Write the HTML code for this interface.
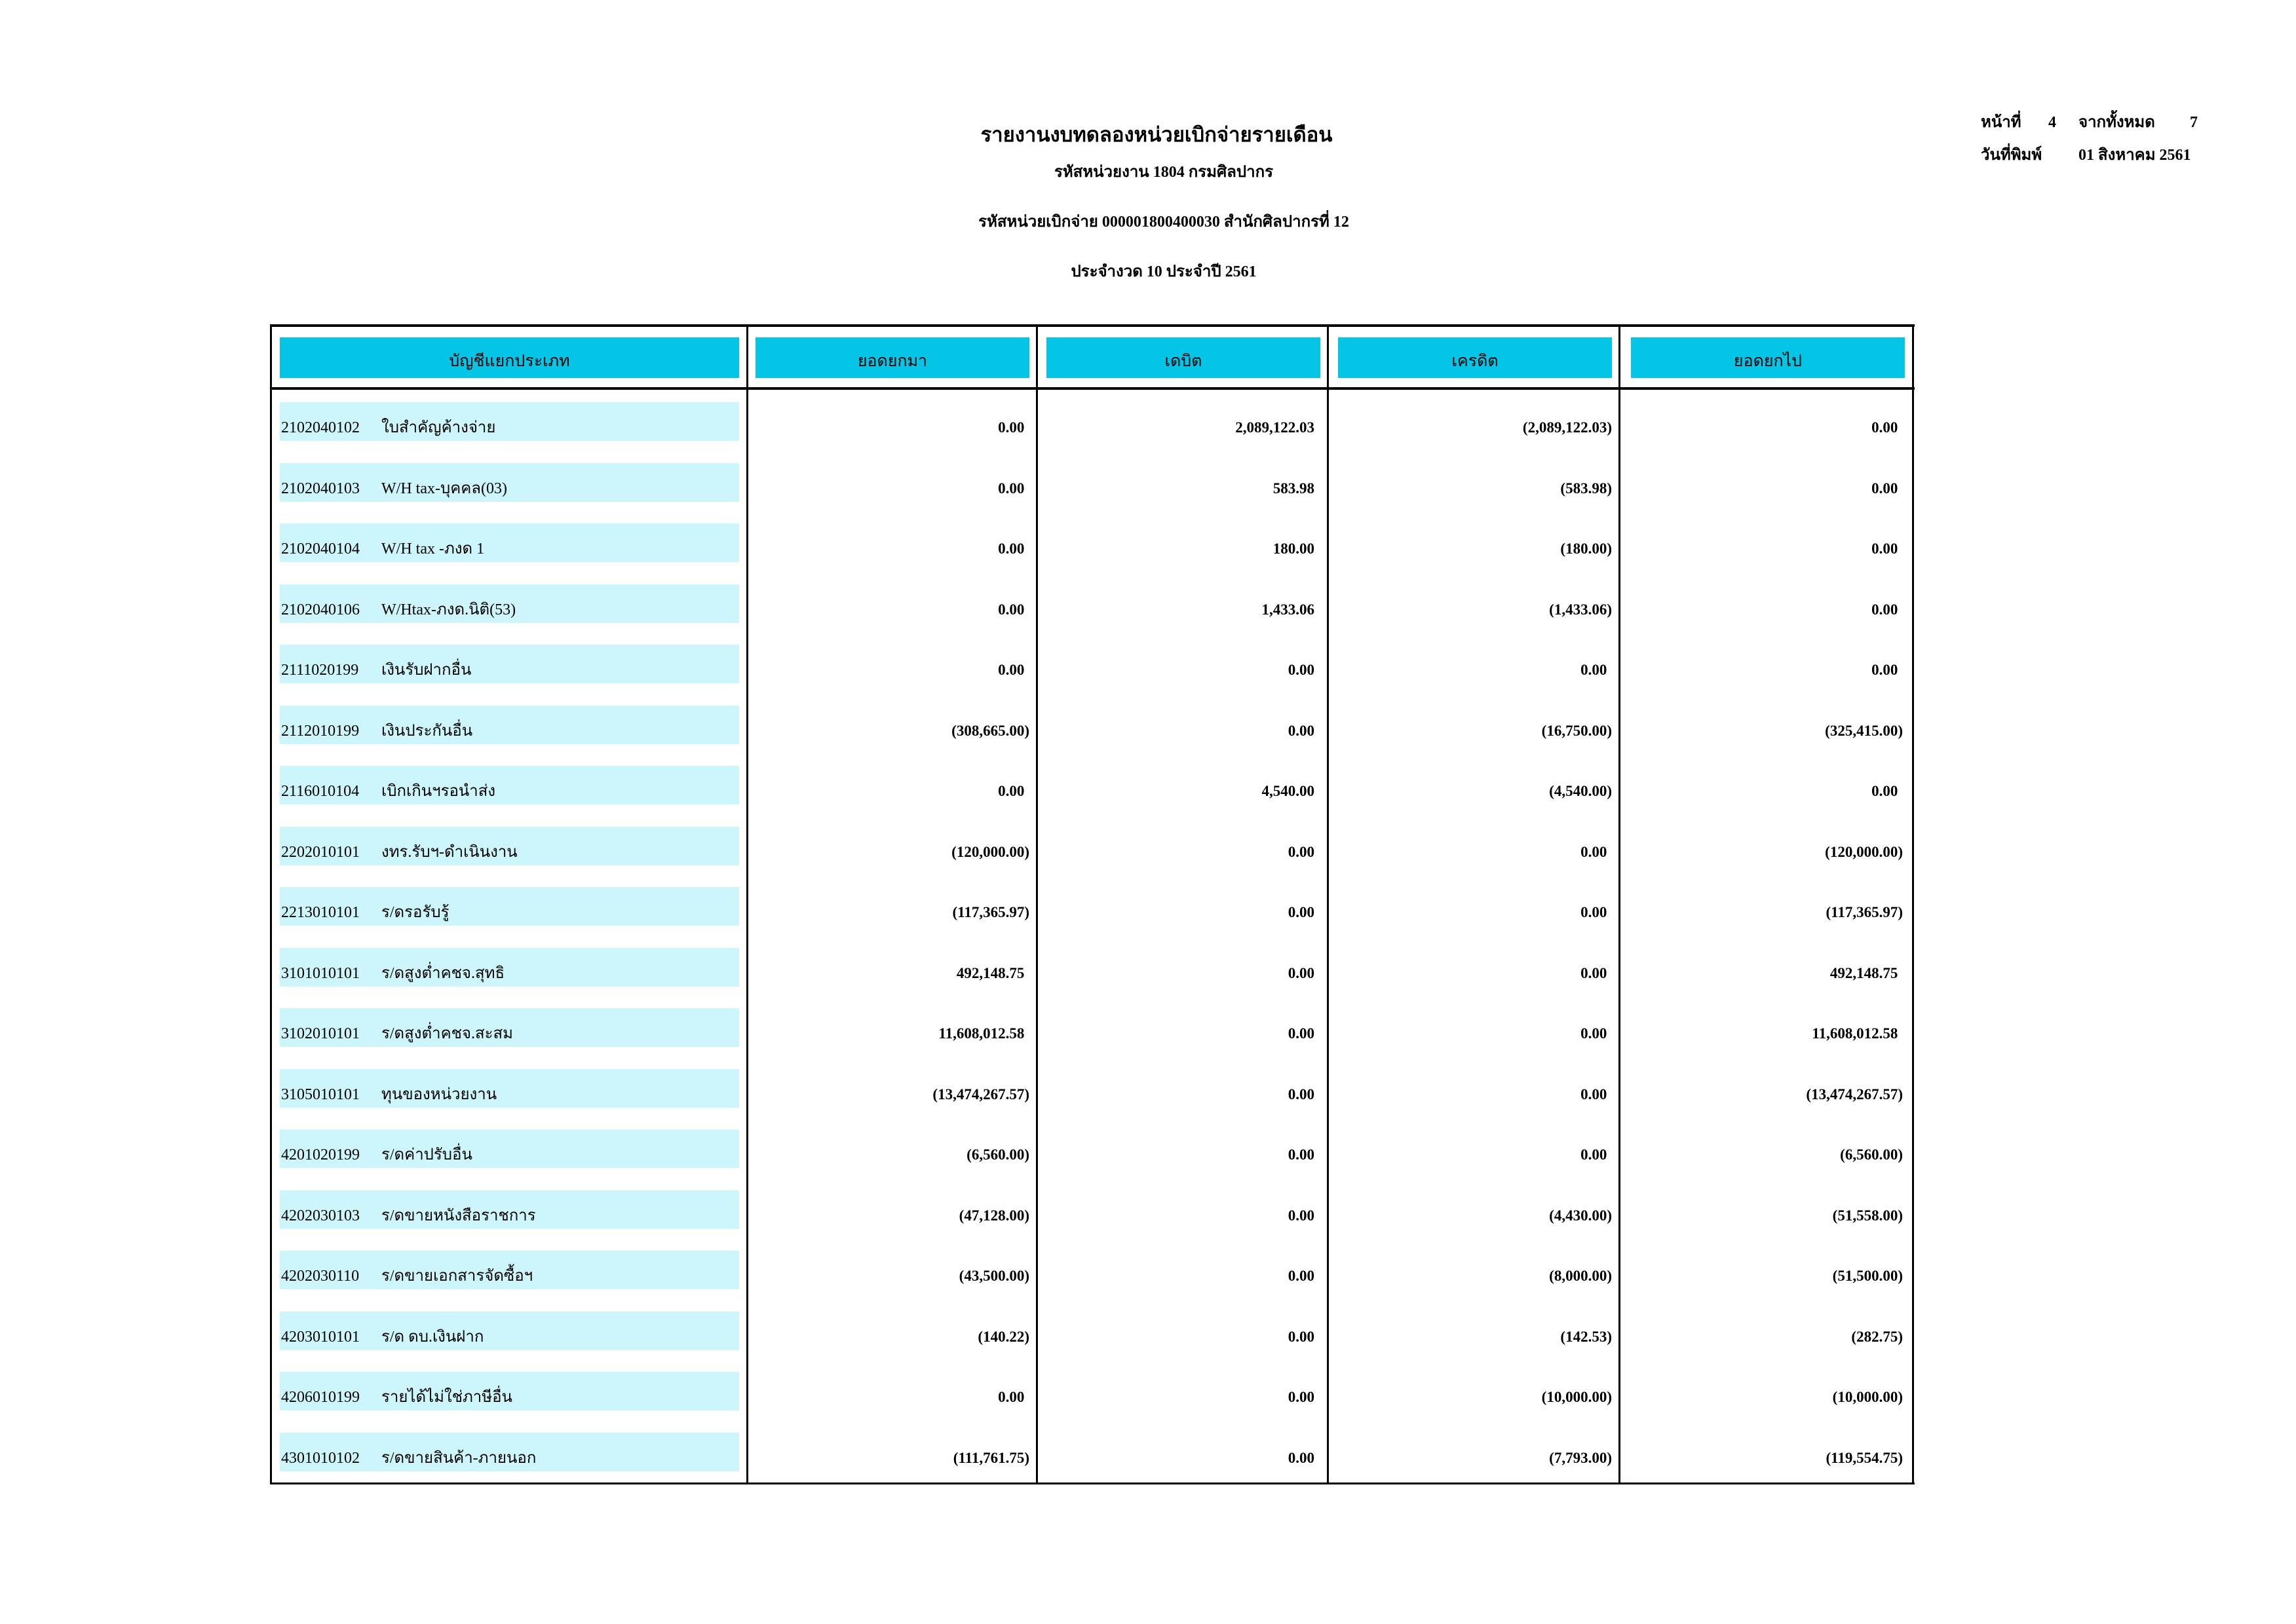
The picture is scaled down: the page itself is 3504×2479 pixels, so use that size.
<!DOCTYPE html>
<html><head><meta charset="utf-8"><style>
body{margin:0;width:3504px;height:2479px;background:#fff;position:relative;overflow:hidden;font-family:"Liberation Serif","DejaVu Serif",serif;color:#000}
.a{position:absolute;white-space:nowrap}
.t{font-weight:bold}
.rb{line-height:34px;height:34px}
.line{position:absolute;background:#000}
.hc{position:absolute;top:515px;height:62px;line-height:74px;background:#05c5e6;text-align:center;font-size:25px}
.r{position:absolute;left:0;width:3504px;height:59px}
.lab{position:absolute;left:427px;width:701px;height:59px;background:#ccf6fc;font-size:24px;line-height:78px;overflow:visible}
.lab .c{position:absolute;left:2px}
.lab .n{position:absolute;left:155px}
.v{position:absolute;font-weight:bold;font-size:23px;line-height:78px;text-align:right}
.v1{right:calc(3504px - 1571px)}
.v2{right:calc(3504px - 2006px)}
.v3{right:calc(3504px - 2460px)}
.v4{right:calc(3504px - 2904px)}
.h{visibility:hidden}
</style></head><body>
<div class="a t" style="left:0;width:3530px;text-align:center;top:180px;font-size:31px">รายงานงบทดลองหน่วยเบิกจ่ายรายเดือน</div>
<div class="a t" style="left:0;width:3552px;text-align:center;top:242px;font-size:24px">รหัสหน่วยงาน 1804 กรมศิลปากร</div>
<div class="a t" style="left:0;width:3552px;text-align:center;top:318px;font-size:24px">รหัสหน่วยเบิกจ่าย 000001800400030 สำนักศิลปากรที่ 12</div>
<div class="a t" style="left:0;width:3552px;text-align:center;top:394px;font-size:24px">ประจำงวด 10 ประจำปี 2561</div>
<div class="a t rb" style="left:3023px;top:170px;font-size:24px">หน้าที่</div>
<div class="a t rb" style="left:3126px;top:170px;font-size:24px">4</div>
<div class="a t rb" style="left:3172px;top:170px;font-size:24px">จากทั้งหมด</div>
<div class="a t rb" style="left:3342px;top:170px;font-size:24px">7</div>
<div class="a t rb" style="left:3023px;top:220px;font-size:24px">วันที่พิมพ์</div>
<div class="a t rb" style="left:3172px;top:220px;font-size:24px">01 สิงหาคม 2561</div>

<div class="line" style="left:412px;top:495px;width:2510px;height:4px"></div>
<div class="line" style="left:412px;top:2263px;width:2510px;height:3px"></div>
<div class="line" style="left:412px;top:495px;width:3px;height:1771px"></div>
<div class="line" style="left:2918px;top:495px;width:3px;height:1771px"></div>
<div class="line" style="left:412px;top:591px;width:2510px;height:4px"></div>
<div class="line" style="left:1139px;top:495px;width:3px;height:1771px"></div>
<div class="line" style="left:1581px;top:495px;width:3px;height:1771px"></div>
<div class="line" style="left:2025px;top:495px;width:3px;height:1771px"></div>
<div class="line" style="left:2470px;top:495px;width:3px;height:1771px"></div>

<div class="hc" style="left:427px;width:701px">บัญชีแยกประเภท</div>
<div class="hc" style="left:1153px;width:418px">ยอดยกมา</div>
<div class="hc" style="left:1597px;width:418px">เดบิต</div>
<div class="hc" style="left:2042px;width:418px">เครดิต</div>
<div class="hc" style="left:2489px;width:418px">ยอดยกไป</div>

<div class="r" style="top:614px"><div class="lab"><span class="c">2102040102</span><span class="n">ใบสำคัญค้างจ่าย</span></div><div class="v v1">0.00<span class="h">)</span></div><div class="v v2">2,089,122.03</div><div class="v v3">(2,089,122.03)</div><div class="v v4">0.00<span class="h">)</span></div></div>
<div class="r" style="top:706.5px"><div class="lab"><span class="c">2102040103</span><span class="n">W/H tax-บุคคล(03)</span></div><div class="v v1">0.00<span class="h">)</span></div><div class="v v2">583.98</div><div class="v v3">(583.98)</div><div class="v v4">0.00<span class="h">)</span></div></div>
<div class="r" style="top:799px"><div class="lab"><span class="c">2102040104</span><span class="n">W/H tax -ภงด 1</span></div><div class="v v1">0.00<span class="h">)</span></div><div class="v v2">180.00</div><div class="v v3">(180.00)</div><div class="v v4">0.00<span class="h">)</span></div></div>
<div class="r" style="top:891.5px"><div class="lab"><span class="c">2102040106</span><span class="n">W/Htax-ภงด.นิติ(53)</span></div><div class="v v1">0.00<span class="h">)</span></div><div class="v v2">1,433.06</div><div class="v v3">(1,433.06)</div><div class="v v4">0.00<span class="h">)</span></div></div>
<div class="r" style="top:984px"><div class="lab"><span class="c">2111020199</span><span class="n">เงินรับฝากอื่น</span></div><div class="v v1">0.00<span class="h">)</span></div><div class="v v2">0.00</div><div class="v v3">0.00<span class="h">)</span></div><div class="v v4">0.00<span class="h">)</span></div></div>
<div class="r" style="top:1076.5px"><div class="lab"><span class="c">2112010199</span><span class="n">เงินประกันอื่น</span></div><div class="v v1">(308,665.00)</div><div class="v v2">0.00</div><div class="v v3">(16,750.00)</div><div class="v v4">(325,415.00)</div></div>
<div class="r" style="top:1169px"><div class="lab"><span class="c">2116010104</span><span class="n">เบิกเกินฯรอนำส่ง</span></div><div class="v v1">0.00<span class="h">)</span></div><div class="v v2">4,540.00</div><div class="v v3">(4,540.00)</div><div class="v v4">0.00<span class="h">)</span></div></div>
<div class="r" style="top:1261.5px"><div class="lab"><span class="c">2202010101</span><span class="n">งทร.รับฯ-ดำเนินงาน</span></div><div class="v v1">(120,000.00)</div><div class="v v2">0.00</div><div class="v v3">0.00<span class="h">)</span></div><div class="v v4">(120,000.00)</div></div>
<div class="r" style="top:1354px"><div class="lab"><span class="c">2213010101</span><span class="n">ร/ดรอรับรู้</span></div><div class="v v1">(117,365.97)</div><div class="v v2">0.00</div><div class="v v3">0.00<span class="h">)</span></div><div class="v v4">(117,365.97)</div></div>
<div class="r" style="top:1446.5px"><div class="lab"><span class="c">3101010101</span><span class="n">ร/ดสูงต่ำคชจ.สุทธิ</span></div><div class="v v1">492,148.75<span class="h">)</span></div><div class="v v2">0.00</div><div class="v v3">0.00<span class="h">)</span></div><div class="v v4">492,148.75<span class="h">)</span></div></div>
<div class="r" style="top:1539px"><div class="lab"><span class="c">3102010101</span><span class="n">ร/ดสูงต่ำคชจ.สะสม</span></div><div class="v v1">11,608,012.58<span class="h">)</span></div><div class="v v2">0.00</div><div class="v v3">0.00<span class="h">)</span></div><div class="v v4">11,608,012.58<span class="h">)</span></div></div>
<div class="r" style="top:1631.5px"><div class="lab"><span class="c">3105010101</span><span class="n">ทุนของหน่วยงาน</span></div><div class="v v1">(13,474,267.57)</div><div class="v v2">0.00</div><div class="v v3">0.00<span class="h">)</span></div><div class="v v4">(13,474,267.57)</div></div>
<div class="r" style="top:1724px"><div class="lab"><span class="c">4201020199</span><span class="n">ร/ดค่าปรับอื่น</span></div><div class="v v1">(6,560.00)</div><div class="v v2">0.00</div><div class="v v3">0.00<span class="h">)</span></div><div class="v v4">(6,560.00)</div></div>
<div class="r" style="top:1816.5px"><div class="lab"><span class="c">4202030103</span><span class="n">ร/ดขายหนังสือราชการ</span></div><div class="v v1">(47,128.00)</div><div class="v v2">0.00</div><div class="v v3">(4,430.00)</div><div class="v v4">(51,558.00)</div></div>
<div class="r" style="top:1909px"><div class="lab"><span class="c">4202030110</span><span class="n">ร/ดขายเอกสารจัดซื้อฯ</span></div><div class="v v1">(43,500.00)</div><div class="v v2">0.00</div><div class="v v3">(8,000.00)</div><div class="v v4">(51,500.00)</div></div>
<div class="r" style="top:2001.5px"><div class="lab"><span class="c">4203010101</span><span class="n">ร/ด ดบ.เงินฝาก</span></div><div class="v v1">(140.22)</div><div class="v v2">0.00</div><div class="v v3">(142.53)</div><div class="v v4">(282.75)</div></div>
<div class="r" style="top:2094px"><div class="lab"><span class="c">4206010199</span><span class="n">รายได้ไม่ใช่ภาษีอื่น</span></div><div class="v v1">0.00<span class="h">)</span></div><div class="v v2">0.00</div><div class="v v3">(10,000.00)</div><div class="v v4">(10,000.00)</div></div>
<div class="r" style="top:2186.5px"><div class="lab"><span class="c">4301010102</span><span class="n">ร/ดขายสินค้า-ภายนอก</span></div><div class="v v1">(111,761.75)</div><div class="v v2">0.00</div><div class="v v3">(7,793.00)</div><div class="v v4">(119,554.75)</div></div>
</body></html>
